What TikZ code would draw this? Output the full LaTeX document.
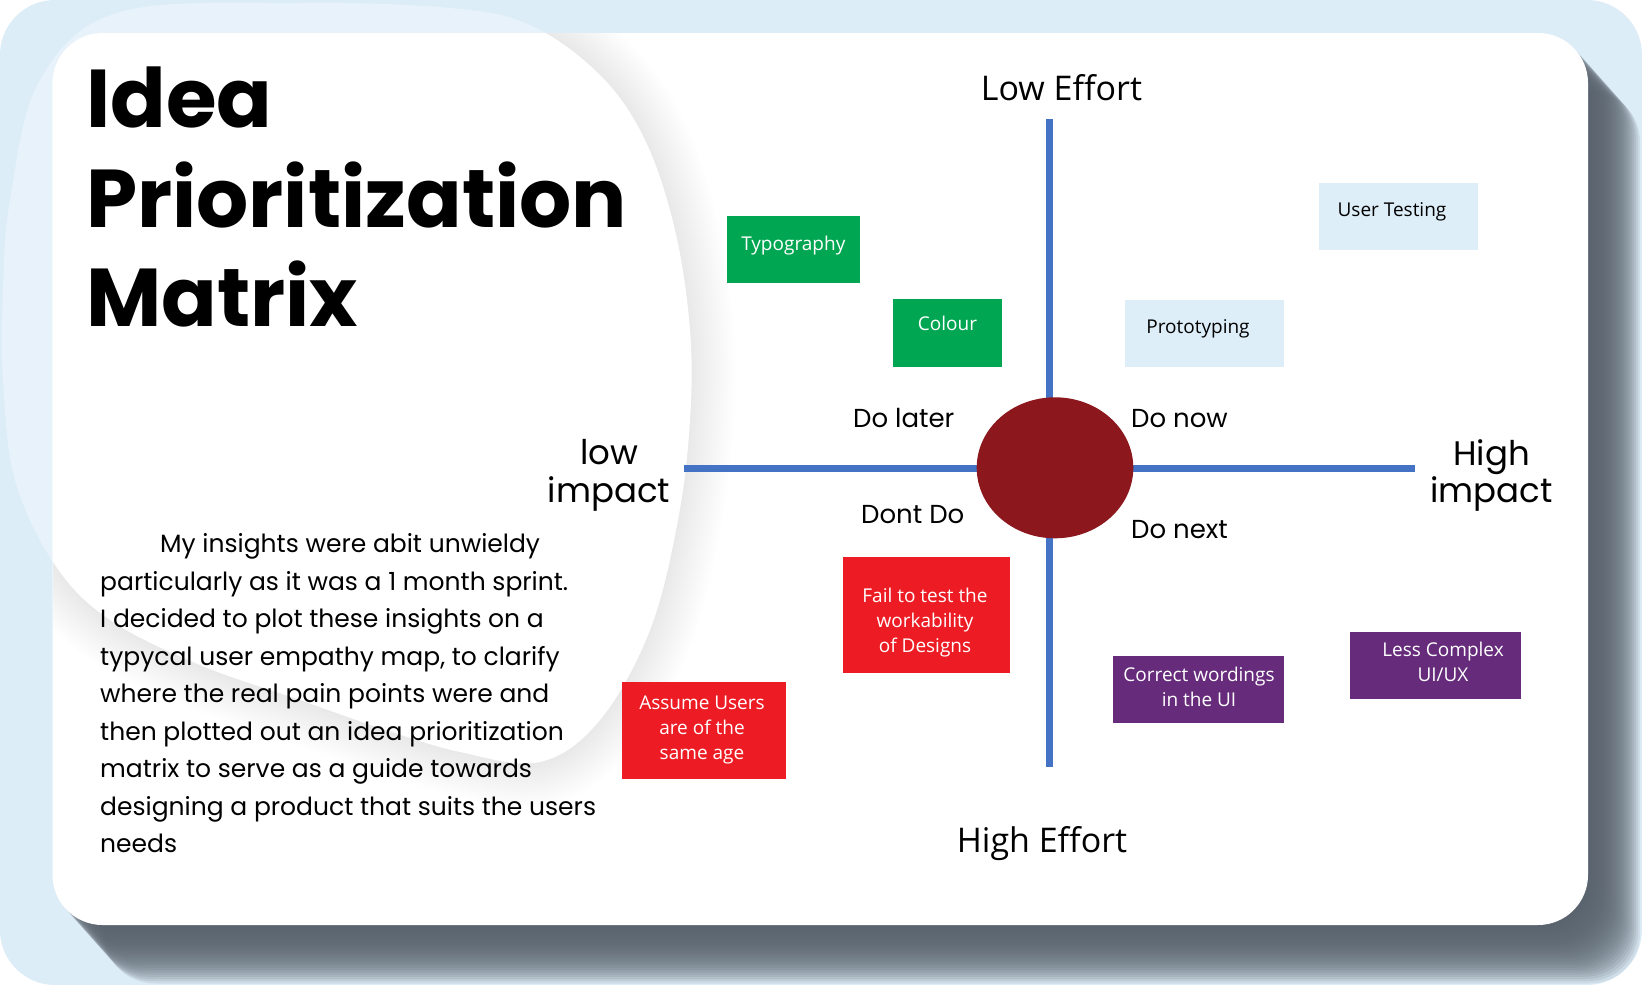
\documentclass[tikz,border=0pt]{standalone}
\usepackage{fontspec}
\setmainfont{Poppins}
\newfontfamily\segoe{Open Sans}
\usetikzlibrary{shapes.geometric,calc}
\definecolor{bgblue}{HTML}{DDEDF8}
\definecolor{shadowcol}{HTML}{5A636D}
\definecolor{axisblue}{HTML}{4472C4}
\definecolor{dotred}{HTML}{8C181E}
\definecolor{boxgreen}{HTML}{00A651}
\definecolor{boxred}{HTML}{ED1C24}
\definecolor{boxpurple}{HTML}{662B7B}
\definecolor{boxlight}{HTML}{DDEEF9}
\def\blobpath{plot[smooth cycle, tension=0.6] coordinates {(10,200) (40,80) (120,12) (300,3) (450,8) (530,25) (600,75) (645,140) (675,230) (690,330) (690,420) (678,520) (650,630) (600,720) (540,762) (460,752) (380,728) (300,700) (200,665) (110,620) (55,565) (15,480) (3,380) (3,290)}}
\tikzset{
  box/.style={rectangle, inner sep=0pt, draw=none},
  boxtext/.style={font=\segoe\fontsize{19}{25}\selectfont, inner sep=0pt, align=center, anchor=base},
  axislabel/.style={font=\segoe\fontsize{34}{40}\selectfont, inner sep=0pt, anchor=base},
  quad/.style={font=\fontsize{26}{30}\selectfont, inner sep=0pt, anchor=base west},
  impact/.style={font=\fontsize{34}{37.7}\selectfont, inner sep=0pt, align=center, anchor=base},
  titletext/.style={font=\bfseries\fontsize{82}{100}\selectfont, inner sep=0pt, anchor=base west},
  axisline/.style={line width=7pt, draw=axisblue},
}
\begin{document}
\begin{tikzpicture}[x=1pt,y=-1pt]
\useasboundingbox (0,0) rectangle (1642,985);
\fill[white] (0,0) rectangle (1642,985);
% outer background
\fill[bgblue, rounded corners=55pt] (0,0) rectangle (1642,985);
\begin{scope}
  \clip[rounded corners=55pt] (0,0) rectangle (1642,985);
  % blob outside card
  \fill[white, opacity=0.3] \blobpath;
  % card shadow
  \foreach \i in {1,...,26} {
    \fill[shadowcol, opacity=0.12, rounded corners=50pt]
      (52.5+2*\i,33+2.25*\i) rectangle (1588+2*\i,925+2.25*\i);
  }
\end{scope}
% card
\fill[white, rounded corners=50pt] (52.5,33) rectangle (1588,925);
\begin{scope}
  \clip[rounded corners=50pt] (52.5,33) rectangle (1588,925);
  \foreach \w in {4,8,...,88} {
    \draw[black, opacity=0.0026, line width=\w pt] \blobpath;
  }
  \fill[white] \blobpath;
\end{scope}

% title
\node[titletext] (t1) at (86,127.3) {Idea};
\node[titletext] (t2) at (86,227) {Prioritization};
\node[titletext] (t3) at (86,326.7) {Matrix};

% paragraph (base anchor = last line)
\node[font=\fontsize{25}{37.5}\selectfont, inner sep=0pt, anchor=base west, align=left] (para) at (100,852.7)
 {\hspace*{60pt}My insights were abit unwieldy\\
  particularly as it was a 1 month sprint.\\
  I decided to plot these insights on a\\
  typycal user empathy map, to clarify\\
  where the real pain points were and\\
  then plotted out an idea prioritization\\
  matrix to serve as a guide towards\\
  designing a product that suits the users\\
  needs};

% axes
\coordinate (vtop) at (1049.5,119);
\coordinate (vbot) at (1049.5,767);
\coordinate (hleft) at (683.8,468.3);
\coordinate (hright) at (1414.8,468.3);
\draw[axisline] (vtop) -- (vbot);
\draw[axisline] (hleft) -- (hright);
\node[ellipse, fill=dotred, inner sep=0pt, minimum width=156.6pt, minimum height=141pt] (dot) at (1055,467.8) {};

% axis labels
\node[axislabel] (loweff) at (1061.5,100) {Low Effort};
\node[axislabel] (higheff) at (1042,852) {High Effort};
\node[impact] (lowimp) at (609,502) {low\\impact};
\node[impact] (highimp) at (1491.5,502.7) {High\\impact};

% quadrant labels
\node[quad] (later) at (853,427.7) {Do later};
\node[quad] (now) at (1131,427.7) {Do now};
\node[quad] (dont) at (861,523) {Dont Do};
\node[quad] (next) at (1131,538) {Do next};

% boxes
\node[box, fill=boxgreen, minimum width=133.3pt, minimum height=67.3pt] (typo) at (793.4,249.7) {};
\node[box, fill=boxgreen, minimum width=108.4pt, minimum height=67.4pt] (colour) at (947.5,333) {};
\node[box, fill=boxlight, minimum width=159pt, minimum height=66.7pt] (usert) at (1398.5,216.7) {};
\node[box, fill=boxlight, minimum width=159pt, minimum height=66.7pt] (proto) at (1204.5,333.3) {};
\node[box, fill=boxred, minimum width=166.8pt, minimum height=116.6pt] (fail) at (926.4,615) {};
\node[box, fill=boxred, minimum width=163.7pt, minimum height=97.6pt] (assume) at (703.7,730.5) {};
\node[box, fill=boxpurple, minimum width=171pt, minimum height=67.3pt] (correct) at (1198.5,689.7) {};
\node[box, fill=boxpurple, minimum width=171.4pt, minimum height=67pt] (less) at (1435.7,665.8) {};

\node[boxtext, text=white] (typot) at (793.3,250.7) {Typography};
\node[boxtext, text=white] (colourt) at (947.5,330.7) {Colour};
\node[boxtext, text=black] (usertt) at (1392,216.7) {User Testing};
\node[boxtext, text=black] (protot) at (1198,333.3) {Prototyping};
\node[boxtext, text=white] (failt) at (925,652.7) {Fail to test the\\workability\\of Designs};
\node[boxtext, text=white] (assumet) at (702,759.3) {Assume Users\\are of the\\same age};
\node[boxtext, text=white] (correctt) at (1199,706.7) {Correct wordings\\in the UI};
\node[boxtext, text=white] (lesst) at (1443,681.7) {Less Complex\\UI/UX};
\end{tikzpicture}
\end{document}
